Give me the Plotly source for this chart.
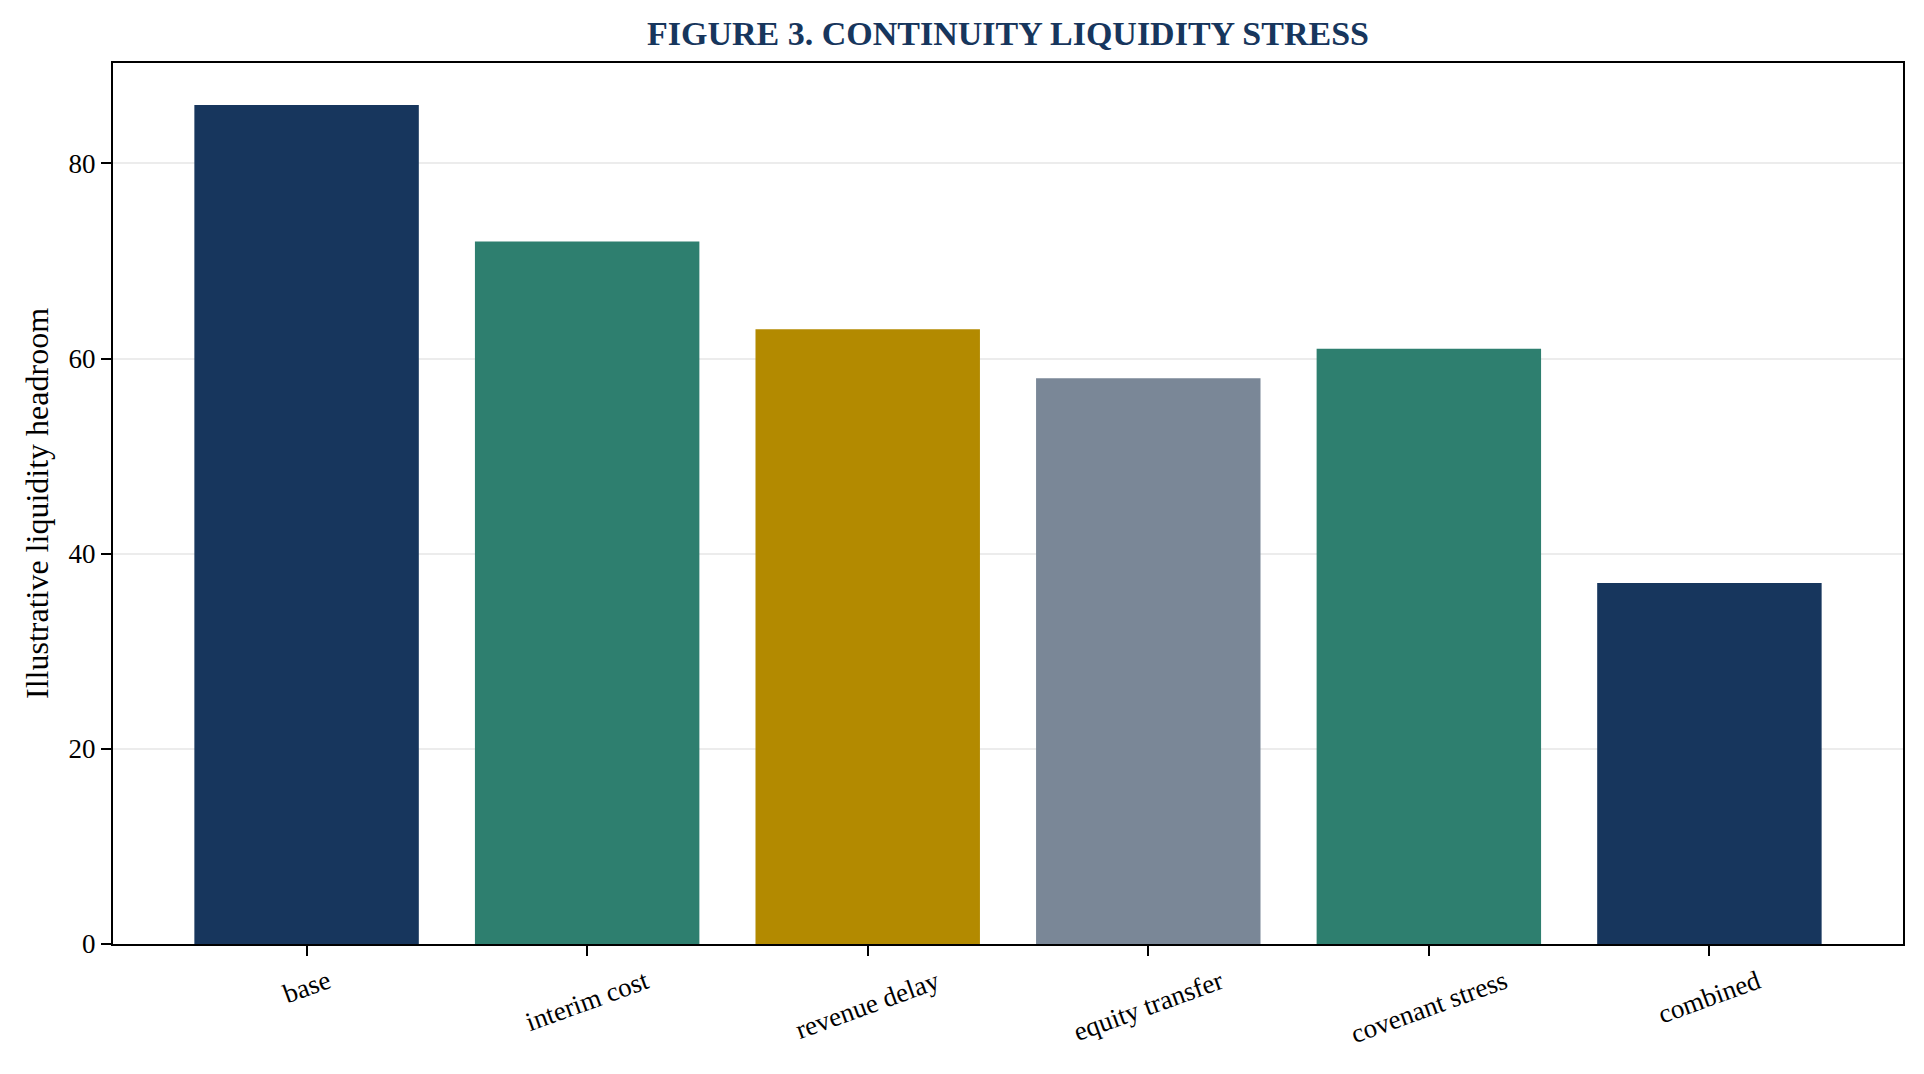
import plotly.graph_objects as go

scenarios = ["base", "interim cost", "revenue delay", "equity transfer", "covenant stress", "combined"]
headroom = [86, 72, 63, 58, 61, 37]
bar_colors = ["#17365d", "#2e7f6f", "#b38a00", "#7a8797", "#2e7f6f", "#17365d"]

serif = "Liberation Serif, Times New Roman, serif"

fig = go.Figure(go.Bar(
    x=list(range(len(scenarios))),
    y=headroom,
    width=0.8,
    marker=dict(color=bar_colors, line=dict(width=0)),
    hovertext=scenarios,
))

# centred, rotated category labels, tops aligned (matplotlib style)
for i, name in enumerate(scenarios):
    fig.add_annotation(
        x=i, xref="x", y=-0.021, yref="paper",
        text=name, showarrow=False, textangle=-20,
        xanchor="center", yanchor="top",
        font=dict(family=serif, size=27, color="black"),
    )

# page body has an 8px margin, so the figure is shrunk by that much
fig.update_layout(
    width=1916, height=1066,
    paper_bgcolor="white", plot_bgcolor="white",
    margin=dict(l=105, r=21, t=55, b=130),
    font=dict(family=serif, size=27, color="black"),
    title=dict(
        text="<b>FIGURE 3. CONTINUITY LIQUIDITY STRESS</b>",
        xref="paper", x=0.5, xanchor="center", y=0.976, yanchor="middle",
        font=dict(family=serif, size=34, color="#17365d"),
    ),
    showlegend=False,
    bargap=0.2,
)

fig.update_xaxes(
    range=[-0.69, 5.69],
    tickmode="array", tickvals=list(range(len(scenarios))),
    showticklabels=False,
    ticks="outside", ticklen=10, tickwidth=2, tickcolor="black",
    showline=True, linecolor="black", linewidth=2, mirror=True,
    showgrid=False, zeroline=False,
)
fig.update_yaxes(
    range=[0, 90.3],
    tickvals=[0, 20, 40, 60, 80],
    ticks="outside", ticklen=10, tickwidth=2, tickcolor="black",
    tickfont=dict(family=serif, size=27),
    showline=True, linecolor="black", linewidth=2, mirror=True,
    showgrid=True, gridcolor="rgba(200,200,200,0.35)", gridwidth=2,
    zeroline=False, layer="above traces",
    title=dict(text="Illustrative liquidity headroom", font=dict(family=serif, size=32), standoff=10),
)

fig.write_html("out.html")
